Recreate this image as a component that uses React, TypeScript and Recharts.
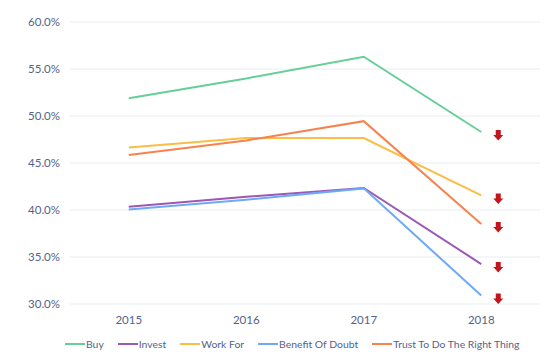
import React from 'react';
import { LineChart, Line, XAxis, YAxis, CartesianGrid, Legend, LabelList } from 'recharts';

const years = ['2015', '2016', '2017', '2018'];
const buy = [51.9, 54.0, 56.3, 48.3];
const invest = [40.35, 41.4, 42.35, 34.25];
const workFor = [46.65, 47.65, 47.65, 41.55];
const benefitOfDoubt = [40.05, 41.1, 42.3, 30.9];
const trustRightThing = [45.85, 47.4, 49.45, 38.5];
const yTicks = [30, 35, 40, 45, 50, 55, 60];

const series = [
  { key: 'buy', name: 'Buy', color: '#66cf98', values: buy },
  { key: 'invest', name: 'Invest', color: '#9b59b6', values: invest },
  { key: 'workFor', name: 'Work For', color: '#fbbd45', values: workFor },
  { key: 'benefit', name: 'Benefit Of Doubt', color: '#6ea9f7', values: benefitOfDoubt },
  { key: 'trust', name: 'Trust To Do The Right Thing', color: '#f7824c', values: trustRightThing },
];

const data = years.map((y, i) => {
  const row: Record<string, any> = { year: y };
  series.forEach((s) => {
    row[s.key] = s.values[i];
  });
  return row;
});

const FONT = 'Lato, "Open Sans", sans-serif';
const TEXT = '#53638a';

const Arrow = (props: any) => {
  const { x, y, index } = props;
  if (index !== years.length - 1) return null;
  const cx = x + 17;
  const top = y - 2;
  const d = `M${cx - 2.5},${top} L${cx + 2.5},${top} L${cx + 2.5},${top + 5} L${cx + 5},${top + 5} L${cx},${top + 10.5} L${cx - 5},${top + 5} L${cx - 2.5},${top + 5} Z`;
  return <path d={d} fill="#c3161c" />;
};

const LegendContent = () => (
  <div style={{ display: 'flex', alignItems: 'center', paddingLeft: 65, fontFamily: FONT, fontSize: 10.4, color: TEXT, height: 20, whiteSpace: 'nowrap', width: 554, boxSizing: 'border-box' }}>
    {series.map((s) => (
      <div key={s.key} style={{ display: 'flex', alignItems: 'center', marginRight: 14, flexShrink: 0 }}>
        <div style={{ width: 20, height: 2, background: s.color, marginRight: 1 }} />
        <span>{s.name}</span>
      </div>
    ))}
  </div>
);

export default function App() {
  return (
    <div style={{ position: 'absolute', left: 0, top: 0, background: '#fff' }}>
      <LineChart width={554} height={360} data={data} margin={{ top: 22, right: 14, bottom: 0, left: 0 }}>
        <CartesianGrid vertical={false} stroke="#e8edf3" strokeWidth={1} />
        <XAxis
          dataKey="year"
          axisLine={false}
          tickLine={false}
          tickSize={0}
          tickMargin={12}
          height={30}
          padding={{ left: 58.75, right: 58.75 }}
          tick={{ fill: TEXT, fontSize: 11.5, fontFamily: FONT }}
        />
        <YAxis
          domain={[30, 60]}
          ticks={yTicks}
          axisLine={false}
          tickLine={false}
          tickSize={0}
          tickMargin={10}
          width={70}
          tickFormatter={(v: number) => v.toFixed(1) + '%'}
          tick={{ fill: TEXT, fontSize: 11.5, fontFamily: FONT }}
        />
        <Legend verticalAlign="bottom" height={26} content={<LegendContent />} wrapperStyle={{ left: 0, width: 554 }} />
        {series.map((s) => (
          <Line
            key={s.key}
            dataKey={s.key}
            name={s.name}
            type="linear"
            stroke={s.color}
            strokeWidth={2}
            dot={false}
            activeDot={false}
            isAnimationActive={false}
          >
            <LabelList dataKey={s.key} content={<Arrow />} />
          </Line>
        ))}
      </LineChart>
    </div>
  );
}
